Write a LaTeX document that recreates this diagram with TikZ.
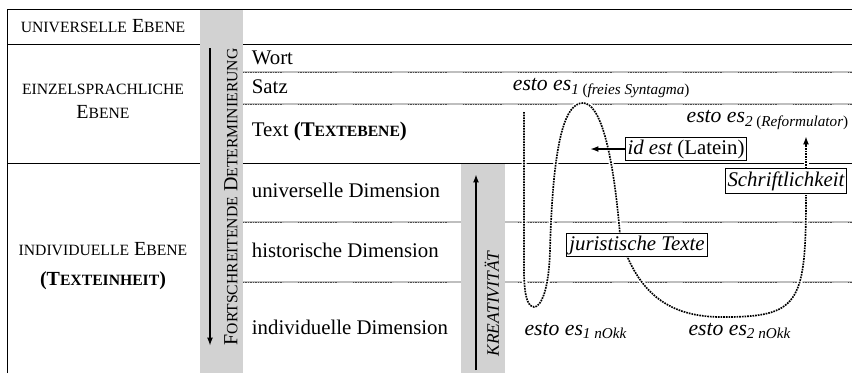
\documentclass[tikz,border=0pt]{standalone}
\usepackage{fontspec}
\setmainfont{Liberation Serif}[ItalicFont={Liberation Serif Italic}, BoldFont={Liberation Serif Bold}]
\usetikzlibrary{calc, positioning}
\usetikzlibrary{arrows.meta}

\newcommand{\kl}[1]{{\fontsize{9.4}{11}\selectfont #1}}

\begin{document}
\begin{tikzpicture}[x=0.6pt, y=-0.6pt,
  rule/.style={line width=0.6pt, black},
  sepline/.style={line width=1pt, gray!50},
  sepdash/.style={line width=0.6pt, black!70, dash pattern=on 0.5pt off 0.5pt},
  column/.style={fill=gray!35},
  lvl/.style={font=\fontsize{12}{14.5}\selectfont, align=center},
  dim/.style={anchor=west, font=\fontsize{12.5}{15}\selectfont},
  pfad/.style={line width=1pt, dash pattern=on 1pt off 0.6pt,
    preaction={draw=white, line width=3pt, solid}},
  kasten/.style={draw, line width=0.6pt, fill=white, inner xsep=1.5pt, inner ysep=1.5pt,
    font=\fontsize{12.5}{15}\selectfont\itshape},
  esto/.style={font=\fontsize{13}{15}\selectfont}
]
\useasboundingbox (0,0) rectangle (852,373);

\coordinate (detA) at (210,48);
\coordinate (detB) at (210,346);
\coordinate (kreA) at (476,370);
\coordinate (kreB) at (476,174);
\coordinate (start) at (524,112);
\coordinate (idtip) at (590,149);
\coordinate (s2) at (806,136);

% frame and levels
\draw[rule] (7,373) -- (7,9) -- (852,9);
\draw[rule] (7,44) -- (852,44);
\draw[rule] (7,163) -- (852,163);
\foreach \y in {72,104} {
  \draw[sepline] (243,\y) -- (852,\y);
  \foreach \x in {243,298,...,852}
    \draw[sepdash] (\x,\y) -- ++(40,0);
}
\foreach \y in {222,282} {
  \draw[sepline] (243,\y) -- (461,\y) (505,\y) -- (852,\y);
  \foreach \x in {243,298,...,852}
    \draw[sepdash] (\x,\y) -- ++(40,0);
}

\fill[column] (200,10) rectangle (243,373);
\fill[column] (461,164) rectangle (505,373);
\draw[line width=1.2pt, -{Latex[length=5pt,width=3.5pt]}] (detA) -- (detB);
\draw[line width=1.2pt, -{Latex[length=5pt,width=3.5pt]}] (kreA) -- (kreB);
\node[rotate=90, font=\fontsize{12}{14}\selectfont] (det) at (231,197) {F\kl{ORTSCHREITENDE} D\kl{ETERMINIERUNG}};
\node[rotate=90, font=\fontsize{10.5}{12}\selectfont\itshape] (krea) at (492,304) {KREATIVITÄT};

\node[lvl] (univ) at (103,26) {\kl{UNIVERSELLE} E\kl{BENE}};
\node[lvl] (einzel) at (103,101) {\kl{EINZELSPRACHLICHE}\\E\kl{BENE}};
\node[lvl] (indiv) at (103,266) {\kl{INDIVIDUELLE} E\kl{BENE}\\[4pt]\textbf{(T\kl{EXTEINHEIT})}};

\node[dim] (wort) at (246,58) {Wort};
\node[dim] (satz) at (246,87) {Satz};
\node[dim] (text) at (246,131) {Text \textbf{(T\kl{EXTEBENE})}};
\node[dim] (univdim) at (246,190) {universelle Dimension};
\node[dim] (histdim) at (246,250) {historische Dimension};
\node[dim] (indivdim) at (246,327) {individuelle Dimension};

% esto es loops
\draw[pfad] (start) -- (524,270) .. controls (524,300) and (529,307) .. (534,307)
  .. controls (541,307) and (549,290) .. (550,250)
  .. controls (553,140) and (565,103) .. (583,103)
  .. controls (600,103) and (613,150) .. (620,235) -- (627,256)
  .. controls (650,310) and (690,318) .. (730,317)
  .. controls (800,316) and (806,300) .. (806,195);

\node[kasten] (idest) at (686,149) {id est \upshape(Latein)};
\node[kasten] (schrift) at (786,181) {Schriftlichkeit};
\node[kasten] (jur) at (637,245) {juristische Texte};
\draw[line width=1pt, -{Latex[length=5pt,width=3.5pt]}] (idest.west) -- (idtip);
\draw[pfad, -{Latex[length=5pt,width=3.5pt]}] (schrift.north -| s2) -- (s2);

\node[esto, anchor=west] (es1) at (507,88) {\textit{esto es}\textsubscript{\textit{1} (\textit{freies Syntagma})}};
\node[esto, anchor=east] (es2) at (855,120) {\textit{esto es}\textsubscript{\textit{2} (\textit{Reformulator})}};
\node[esto] (nokk1) at (576,331) {\textit{esto es}\textsubscript{\textit{1 nOkk}}};
\node[esto] (nokk2) at (740,331) {\textit{esto es}\textsubscript{\textit{2 nOkk}}};
\end{tikzpicture}
\end{document}
